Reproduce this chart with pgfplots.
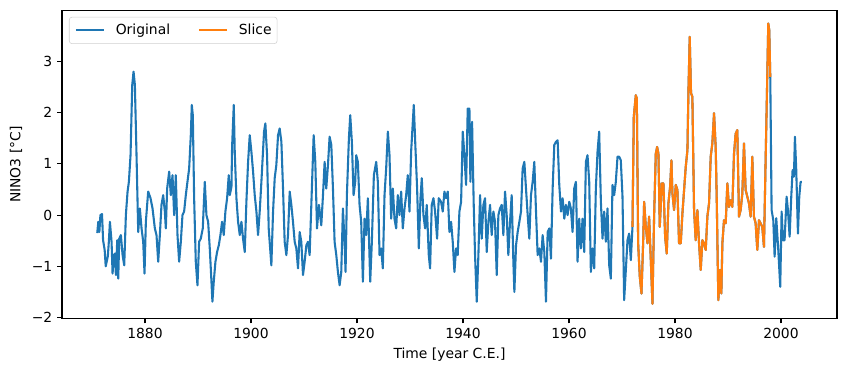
\documentclass[border=0pt]{standalone}
\usepackage{fontspec}
\setmainfont{DejaVu Sans}
\usepackage{pgfplots}
\usepackage{pgfplotstable}
\pgfplotsset{compat=1.18}
\definecolor{c0}{HTML}{1F77B4}
\definecolor{c1}{HTML}{FF7F0E}
\pgfplotstableread{
year val
1871.00 -0.35
1871.20 -0.13
1871.40 -0.33
1871.60 0.00
1871.90 0.02
1872.10 -0.49
1872.40 -0.68
1872.60 -1.00
1873.00 -0.80
1873.20 -0.50
1873.39 -0.13
1873.70 -0.52
1873.89 -1.14
1874.14 -0.78
1874.33 -0.75
1874.52 -1.17
1874.77 -0.49
1874.96 -1.24
1875.15 -0.46
1875.46 -0.39
1875.78 -0.78
1876.09 -0.98
1876.40 0.00
1876.72 0.46
1876.97 0.65
1877.28 1.17
1877.60 2.54
1877.85 2.80
1878.10 2.54
1878.41 1.17
1878.73 -0.33
1879.04 0.13
1879.36 -0.26
1879.67 -0.52
1879.92 -1.14
1880.17 -0.13
1880.61 0.46
1881.05 0.33
1881.43 0.13
1881.87 -0.26
1882.18 -0.39
1882.50 -0.91
1882.81 -0.39
1883.12 0.20
1883.44 0.39
1883.75 0.07
1883.94 -0.26
1884.19 0.52
1884.57 0.85
1884.88 0.39
1885.20 0.78
1885.51 0.00
1885.82 0.78
1886.14 -0.39
1886.45 -0.91
1886.77 -0.52
1887.08 0.00
1887.39 0.07
1887.71 0.39
1888.02 0.65
1888.34 0.91
1888.65 1.56
1888.84 2.15
1889.03 1.95
1889.28 0.33
1889.59 -0.91
1889.91 -1.37
1890.22 -0.52
1890.53 -0.46
1890.91 -0.26
1891.29 0.65
1891.60 0.00
1891.92 -0.13
1892.23 -0.65
1892.55 -1.30
1892.73 -1.69
1892.98 -1.30
1893.30 -0.91
1893.61 -0.72
1893.93 -0.59
1894.24 -0.39
1894.55 -0.13
1894.87 -0.39
1895.18 0.07
1895.50 0.33
1895.81 0.78
1896.00 0.39
1896.32 0.55
1896.44 1.33
1896.76 2.15
1896.94 1.24
1897.26 0.33
1897.57 -0.13
1897.89 -0.39
1898.20 -0.13
1898.51 -0.46
1898.83 -0.72
1899.14 0.26
1899.46 1.04
1899.77 1.56
1900.08 1.24
1900.40 0.85
1900.71 0.39
1901.03 0.07
1901.34 -0.39
1901.65 0.07
1901.97 0.65
1902.47 1.63
1902.72 1.79
1903.04 1.17
1903.35 -0.26
1903.85 -0.98
1904.17 0.07
1904.48 0.72
1904.79 0.98
1905.11 1.56
1905.42 1.69
1905.74 1.43
1906.05 0.52
1906.36 -0.52
1906.68 -0.78
1906.99 -0.39
1907.31 0.46
1907.62 0.20
1907.93 -0.13
1908.25 -0.52
1908.56 -0.65
1908.88 -1.04
1909.19 -0.33
1909.50 -0.52
1909.82 -1.17
1910.13 -0.91
1910.45 -0.59
1910.76 -0.52
1911.07 -0.78
1911.39 0.20
1911.83 1.56
1912.14 1.04
1912.46 -0.26
1912.83 0.20
1913.27 -0.20
1913.59 0.39
1913.90 1.04
1914.21 0.52
1914.53 0.98
1914.84 1.53
1915.16 1.37
1915.47 0.52
1915.78 -0.52
1916.10 -0.78
1916.41 -1.11
1916.73 -1.37
1917.04 -1.11
1917.35 0.13
1917.66 -0.52
1917.85 -1.11
1918.10 0.39
1918.48 1.50
1918.73 1.95
1919.04 1.43
1919.36 0.39
1919.67 0.65
1919.86 1.17
1920.17 1.04
1920.49 0.20
1920.80 -0.13
1921.12 -1.30
1921.43 -0.07
1921.74 -0.39
1922.06 0.33
1922.50 -1.30
1922.81 -0.52
1923.19 0.78
1923.63 1.04
1923.94 0.65
1924.26 -0.78
1924.57 -0.65
1924.88 -1.04
1925.20 0.39
1925.51 0.91
1925.83 1.63
1926.14 1.17
1926.45 -0.07
1926.77 0.52
1927.08 -0.07
1927.40 -0.26
1927.71 0.39
1928.02 0.00
1928.34 0.46
1928.65 -0.26
1928.97 0.13
1929.28 0.39
1929.59 0.78
1929.91 0.07
1930.22 1.24
1930.54 1.82
1930.72 2.15
1931.04 1.30
1931.35 0.52
1931.67 -0.65
1931.98 0.33
1932.23 0.72
1932.54 0.00
1932.86 -0.26
1933.17 0.20
1933.55 -0.78
1933.80 -1.04
1934.11 0.20
1934.43 0.33
1934.74 0.07
1935.12 -0.46
1935.43 0.33
1935.87 0.26
1936.19 0.07
1936.50 0.46
1936.82 0.33
1937.13 0.46
1937.44 -0.33
1937.76 -0.13
1938.07 -0.52
1938.39 -1.11
1938.70 -0.65
1939.01 -0.78
1939.33 0.07
1939.65 0.26
1939.96 1.63
1940.27 1.17
1940.59 0.59
1940.90 2.08
1941.22 2.08
1941.40 0.65
1941.72 1.82
1942.03 0.20
1942.28 -0.78
1942.60 -1.69
1942.91 -0.78
1943.23 0.39
1943.54 -0.46
1943.85 0.20
1944.17 0.33
1944.48 -0.72
1944.80 -0.13
1945.11 0.20
1945.42 -0.39
1945.74 0.07
1946.05 -0.13
1946.37 -1.17
1946.68 0.00
1946.99 0.13
1947.31 0.20
1947.62 -0.39
1947.94 0.46
1948.25 0.00
1948.56 -0.78
1948.88 -0.13
1949.19 0.39
1949.51 -0.91
1949.70 -1.50
1950.01 -0.59
1950.32 -0.33
1950.64 -0.13
1950.95 0.07
1951.26 0.91
1951.58 1.04
1951.89 0.52
1952.21 0.00
1952.52 -0.46
1952.83 0.39
1953.15 0.65
1953.46 1.04
1953.78 0.07
1954.09 -0.78
1954.41 -0.65
1954.72 -0.91
1955.03 -0.39
1955.35 -0.72
1955.66 -1.69
1955.98 -0.33
1956.29 -0.26
1956.60 -0.85
1956.92 0.52
1957.23 1.37
1957.55 1.43
1957.86 1.46
1958.17 0.59
1958.49 0.07
1958.80 0.33
1959.12 -0.07
1959.43 0.20
1959.74 0.00
1960.06 0.26
1960.36 0.13
1960.68 -0.33
1960.99 0.52
1961.31 0.65
1961.62 -0.91
1961.93 -0.07
1962.25 -0.65
1962.56 -0.07
1962.88 -0.72
1963.19 1.04
1963.50 1.17
1963.82 0.65
1964.13 -1.11
1964.45 -0.65
1964.76 -1.04
1965.07 0.52
1965.39 1.24
1965.70 1.63
1966.02 0.26
1966.33 -0.46
1966.64 0.07
1966.96 -0.52
1967.27 0.13
1967.59 -0.98
1967.90 -1.24
1968.21 0.59
1968.53 0.39
1968.84 0.65
1969.16 1.14
1969.47 1.14
1969.78 1.07
1970.10 0.36
1970.41 -1.66
1970.73 -1.07
1971.04 -0.49
1971.35 -0.36
1971.67 -0.88
1971.98 -0.23
1972.23 1.92
1972.61 2.34
1972.80 2.28
1973.05 -0.55
1973.36 -1.20
1973.68 -1.53
1973.99 -0.55
1974.18 0.26
1974.50 -0.23
1974.81 -0.55
1975.12 -0.03
1975.44 -0.88
1975.75 -1.73
1976.06 -0.03
1976.38 1.20
1976.63 1.33
1976.88 1.20
1977.13 -0.23
1977.51 0.62
1977.82 0.62
1978.14 -0.42
1978.45 -0.75
1978.76 0.23
1979.08 0.55
1979.33 1.07
1979.52 0.42
1979.83 0.10
1980.15 0.59
1980.46 0.49
1980.77 -0.55
1981.09 -0.55
1981.40 0.03
1981.72 0.49
1982.03 0.94
1982.35 1.27
1982.53 2.38
1982.78 3.48
1983.03 2.38
1983.28 2.31
1983.60 0.10
1983.91 -0.49
1984.23 0.10
1984.54 -0.55
1984.86 -1.07
1985.17 -0.49
1985.48 -0.55
1985.80 -0.68
1986.11 -0.03
1986.43 0.23
1986.74 1.14
1987.05 1.40
1987.37 1.99
1987.68 1.33
1987.87 0.36
1988.18 -1.66
1988.50 -1.07
1988.75 -1.53
1988.94 -0.55
1989.25 -0.10
1989.57 -0.16
1989.88 0.62
1990.19 0.16
1990.51 0.29
1990.82 0.16
1991.14 1.20
1991.45 1.59
1991.76 1.66
1992.08 -0.03
1992.39 0.10
1992.71 0.42
1993.02 1.40
1993.33 0.49
1993.65 0.36
1993.96 0.23
1994.28 -0.03
1994.59 1.14
1994.90 -0.03
1995.22 -0.16
1995.53 -0.68
1995.85 -0.10
1996.16 -0.16
1996.47 -0.23
1996.79 -0.62
1997.10 1.07
1997.35 2.38
1997.60 3.74
1997.79 3.61
1997.98 2.70
1998.23 0.10
1998.55 -0.10
1998.80 -0.81
1999.11 -0.06
1999.49 -0.68
1999.86 -1.40
2000.12 0.07
2000.37 -0.49
2000.68 -0.49
2001.06 0.36
2001.31 0.10
2001.63 -0.42
2001.94 0.36
2002.19 0.88
2002.44 0.75
2002.63 1.53
2002.88 0.88
2003.20 -0.36
2003.45 0.36
2003.70 0.65
2003.92 0.65
}\nino

\begin{document}
\begin{tikzpicture}
\begin{axis}[
  scale only axis, width=558pt, height=221.7pt,
  xmin=1864.35, xmax=2010.57, ymin=-2.02, ymax=3.99,
  xtick={1880,1900,1920,1940,1960,1980,2000},
  ytick={-2,-1,0,1,2,3},
  yticklabels={−2,−1,0,1,2,3},
  /pgf/number format/assume math mode=true,
  /pgf/number format/1000 sep={},
  tick align=outside, xtick pos=left, ytick pos=left,
  major tick length=3.5pt,
  every tick/.style={black, line width=0.8pt},
  axis line style={line width=0.8pt},
  tick label style={font=\fontsize{10}{12}\selectfont},
  label style={font=\fontsize{10}{12}\selectfont},
  xlabel={Time [year C.E.]}, ylabel={NINO3 [°C]},
  legend columns=2,
  legend style={at={(0.009,0.98)}, anchor=north west,
    draw=black!18, rounded corners=2pt, fill=white, fill opacity=0.8, text opacity=1,
    font=\fontsize{10}{12}\selectfont, inner xsep=4pt, inner ysep=2pt,
    nodes={inner xsep=0pt, inner ysep=3pt},
    /tikz/every odd column/.append style={column sep=8pt},
    /tikz/every even column/.append style={column sep=20pt}},
  legend image code/.code={\draw[#1] (0pt,0pt) -- (20pt,0pt);},
]
\addplot[c0, line width=1.5pt, line join=round] table[x=year, y=val] {\nino};
\addlegendentry{Original}
\addplot[c1, line width=1.5pt, line join=round, restrict x to domain=1971.9:1998.0] table[x=year, y=val] {\nino};
\addlegendentry{Slice}
\end{axis}
\pgfresetboundingbox
\path[use as bounding box] ([shift={(-44.64pt,-37.7pt)}]current axis.south west) rectangle ([shift={(7.2pt,7.7pt)}]current axis.north east);
\end{tikzpicture}
\end{document}
